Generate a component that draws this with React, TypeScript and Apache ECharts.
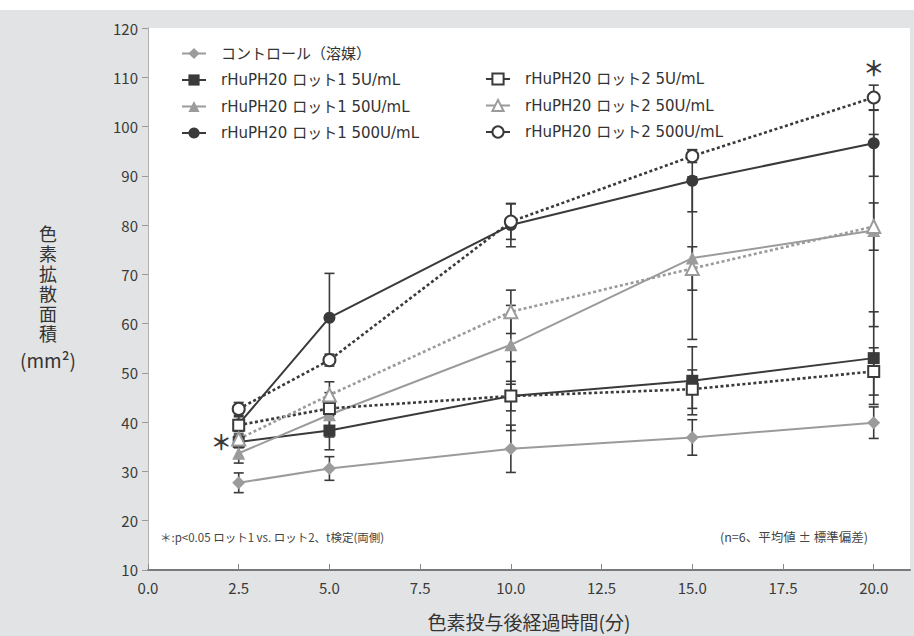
import React, { useEffect, useRef } from "react";
import * as echarts from "echarts";

const times = [2.5, 5, 10, 15, 20];
const xTickValues = [0, 2.5, 5, 7.5, 10, 12.5, 15, 17.5, 20];

const seriesNames = [
  "コントロール（溶媒）",
  "rHuPH20 ロット1 5U/mL",
  "rHuPH20 ロット1 50U/mL",
  "rHuPH20 ロット1 500U/mL",
  "rHuPH20 ロット2 5U/mL",
  "rHuPH20 ロット2 50U/mL",
  "rHuPH20 ロット2 500U/mL",
];

const controlMean = [27.7, 30.6, 34.6, 36.9, 39.9];
const controlSD = [2.0, 2.4, 4.8, 3.6, 3.2];
const lot1_5Mean = [36.0, 38.3, 45.3, 48.4, 53.0];
const lot1_5SD = [1.2, 3.9, 7.0, 6.9, 9.4];
const lot1_50Mean = [33.7, 41.5, 55.7, 73.3, 78.9];
const lot1_50SD = [2.0, 4.5, 8.0, 16.5, 19.5];
const lot1_500Mean = [39.6, 61.2, 80.0, 89.0, 96.6];
const lot1_500SD = [1.5, 9.0, 4.4, 6.3, 6.7];
const lot2_5Mean = [39.4, 42.8, 45.3, 46.7, 50.3];
const lot2_5SD = [1.0, 1.5, 3.0, 3.9, 4.8];
const lot2_50Mean = [36.6, 45.5, 62.4, 71.2, 79.7];
const lot2_50SD = [1.0, 2.7, 4.4, 4.4, 4.8];
const lot2_500Mean = [42.7, 52.6, 80.7, 94.0, 105.9];
const lot2_500SD = [1.3, 1.2, 3.6, 1.3, 2.5];

const significance = [
  [2.02, 36.2],
  [20, 112.0],
];

const yTitleChars = ["色", "素", "拡", "散", "面", "積"];

const DARK = "#3a3a3a";
const GRAY = "#9b9b9b";
const JP = "'Noto Sans CJK JP', sans-serif";
const LEG = "'DejaVu Sans', 'Noto Sans CJK JP', sans-serif";

export default function App() {
  const ref = useRef<HTMLDivElement>(null);

  useEffect(() => {
    document.body.style.margin = "0";
    if (!ref.current) return;
    const chart = echarts.init(ref.current, null, { renderer: "svg" });

    const groups = [
      { name: seriesNames[0], mean: controlMean, sd: controlSD, color: GRAY, fill: GRAY, symbol: "diamond", size: 13, dashed: false },
      { name: seriesNames[1], mean: lot1_5Mean, sd: lot1_5SD, color: DARK, fill: DARK, symbol: "rect", size: 12, dashed: false },
      { name: seriesNames[2], mean: lot1_50Mean, sd: lot1_50SD, color: GRAY, fill: GRAY, symbol: "triangle", size: 13, dashed: false },
      { name: seriesNames[3], mean: lot1_500Mean, sd: lot1_500SD, color: DARK, fill: DARK, symbol: "circle", size: 12, dashed: false },
      { name: seriesNames[4], mean: lot2_5Mean, sd: lot2_5SD, color: DARK, fill: "#ffffff", symbol: "rect", size: 11, dashed: true },
      { name: seriesNames[5], mean: lot2_50Mean, sd: lot2_50SD, color: GRAY, fill: "#ffffff", symbol: "triangle", size: 13, dashed: true },
      { name: seriesNames[6], mean: lot2_500Mean, sd: lot2_500SD, color: DARK, fill: "#ffffff", symbol: "circle", size: 12, dashed: true },
    ];

    const errorSeries = groups.map((g, gi) => ({
      type: "custom",
      name: "err" + gi,
      z: 1,
      data: times.map((t, i) => [t, g.mean[i] - g.sd[i], g.mean[i] + g.sd[i]]),
      encode: { x: 0, y: [1, 2] },
      renderItem: (params: any, api: any) => {
        const x = api.value(0);
        const p1 = api.coord([x, api.value(1)]);
        const p2 = api.coord([x, api.value(2)]);
        const w = 5;
        const st = { stroke: DARK, lineWidth: 1.6 };
        return {
          type: "group",
          children: [
            { type: "line", shape: { x1: p1[0], y1: p1[1], x2: p2[0], y2: p2[1] }, style: st },
            { type: "line", shape: { x1: p1[0] - w, y1: p1[1], x2: p1[0] + w, y2: p1[1] }, style: st },
            { type: "line", shape: { x1: p2[0] - w, y1: p2[1], x2: p2[0] + w, y2: p2[1] }, style: st },
          ],
        };
      },
    }));

    const lineSeries = groups.map((g) => ({
      type: "line",
      name: g.name,
      z: 3,
      data: times.map((t, i) => [t, g.mean[i]]),
      symbol: g.symbol,
      symbolSize: g.size,
      showAllSymbol: true,
      lineStyle: { color: g.color, width: g.dashed ? 2.6 : 2, type: g.dashed ? [3, 2.5] : "solid" },
      itemStyle: { color: g.fill, borderColor: g.color, borderWidth: g.fill === "#ffffff" ? 2 : 0 },
    }));

    const sigSeries = {
      type: "scatter",
      name: "sig",
      z: 4,
      data: significance,
      symbolSize: 0.1,
      itemStyle: { color: DARK, opacity: 1 },
      label: {
        show: true,
        position: "inside",
        formatter: "＊",
        fontFamily: JP,
        fontSize: 21,
        fontWeight: "bold",
        color: DARK,
        textBorderWidth: 0,
      },
    };

    const legendCommon = {
      orient: "vertical",
      itemWidth: 24,
      itemHeight: 14,
      itemGap: 11.5,
      lineStyle: { type: "solid" },
      textStyle: { fontFamily: LEG, fontSize: 15, color: "#333", padding: [0, 0, 0, 10] },
      selectedMode: false,
    };

    const yTitleGraphics = yTitleChars.map((ch, i) => ({
      type: "text",
      x: 48,
      y: 224 + i * 20,
      style: { text: ch, font: `18px ${JP}`, lineHeight: 18, fill: "#333", align: "center", verticalAlign: "top" },
    }));

    chart.setOption({
      animation: false,
      backgroundColor: "#ffffff",
      graphic: [
        { type: "rect", z: -10, shape: { x: 0, y: 10, width: 914, height: 626 }, style: { fill: "#e2e3e4" }, silent: true },
        {
          type: "text",
          left: 160,
          top: 531,
          style: { text: "＊:p<0.05 ロット1 vs. ロット2、t検定(両側)", font: `11.5px ${JP}`, fill: "#444" },
        },
        {
          type: "text",
          right: 46,
          top: 530,
          style: { text: "(n=6、平均値 ± 標準偏差)", font: `12.5px ${JP}`, fill: "#444" },
        },
        ...yTitleGraphics,
        {
          type: "text",
          x: 48,
          y: 350,
          style: { text: "(mm²)", font: `19px ${JP}`, fill: "#333", align: "center" },
        },
      ],
      legend: [
        { ...legendCommon, left: 176, top: 41, data: seriesNames.slice(0, 4) },
        { ...legendCommon, left: 480, top: 66.5, data: seriesNames.slice(4) },
      ],
      grid: { left: 148, right: 4, top: 28, bottom: 65, show: true, backgroundColor: "#ffffff", borderWidth: 0 },
      xAxis: {
        type: "value",
        min: 0,
        max: 21,
        interval: 2.5,
        name: "色素投与後経過時間(分)",
        nameLocation: "middle",
        nameGap: 42,
        nameTextStyle: { fontFamily: JP, fontSize: 19, color: "#333" },
        axisLine: { show: true, lineStyle: { color: "#7a7a7a", width: 2 } },
        axisTick: { show: true, inside: true, length: 6, lineStyle: { color: "#888" }, customValues: xTickValues },
        axisLabel: {
          fontFamily: JP,
          fontSize: 15,
          color: "#3a3a3a",
          margin: 10,
          customValues: xTickValues,
          formatter: (v: number) => v.toFixed(1),
        },
        splitLine: { show: false },
      },
      yAxis: {
        type: "value",
        min: 10,
        max: 120,
        interval: 10,
        axisLine: { show: true, lineStyle: { color: "#b0b0b0", width: 1 } },
        axisTick: { show: true, inside: false, length: 6, lineStyle: { color: "#999" } },
        axisLabel: { fontFamily: JP, fontSize: 15, color: "#3a3a3a", margin: 10 },
        splitLine: { show: false },
      },
      series: [...errorSeries, ...lineSeries, sigSeries],
    });

    return () => chart.dispose();
  }, []);

  return <div ref={ref} style={{ width: 914, height: 636 }} />;
}
